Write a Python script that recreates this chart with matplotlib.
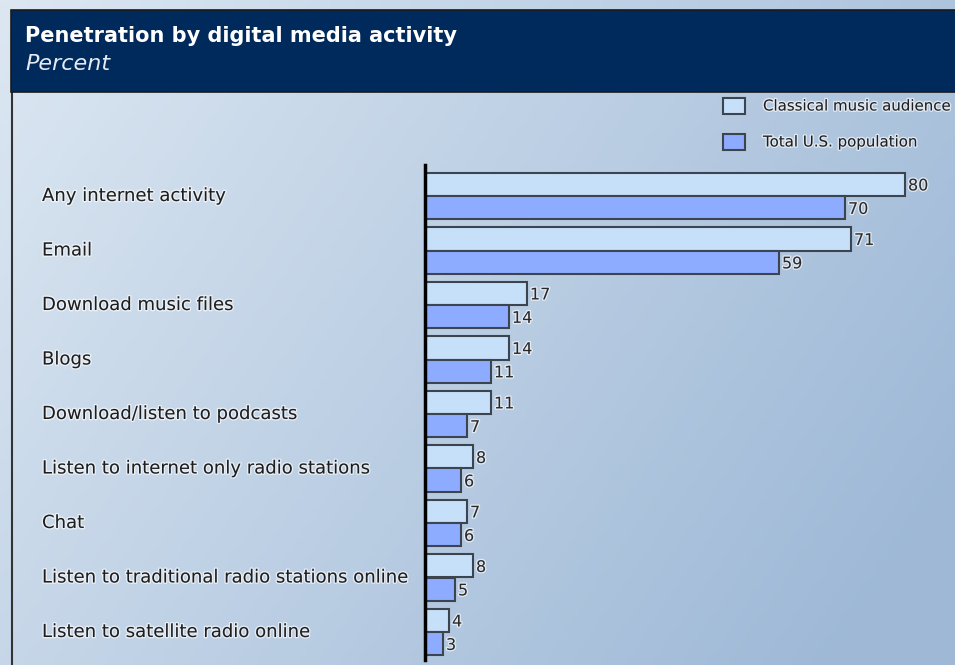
import numpy as np
import matplotlib
import matplotlib.pyplot as plt
from matplotlib.patches import Rectangle
from matplotlib.transforms import blended_transform_factory
import matplotlib.patheffects as pe

matplotlib.use('Agg')
plt.rcParams['font.family'] = ['DejaVu Sans']

# 데이터
activities = [
    'Any internet activity',
    'Email',
    'Download music files',
    'Blogs',
    'Download/listen to podcasts',
    'Listen to internet only radio stations',
    'Chat',
    'Listen to traditional radio stations online',
    'Listen to satellite radio online',
]
classical = [80, 71, 17, 14, 11, 8, 7, 8, 4]
total_us = [70, 59, 14, 11, 7, 6, 6, 5, 3]
series_names = ['Classical music audience', 'Total U.S. population']

light_color = '#c6e0fa'
dark_color = '#8eacff'
edge_color = '#3c4450'
navy = '#002a5c'

W, H = 955, 665
fig = plt.figure(figsize=(W / 100, H / 100), dpi=100)

# 배경 그라데이션
bg = fig.add_axes([0, 0, 1, 1])
gx, gy = np.meshgrid(np.linspace(0, 1, 200), np.linspace(0, 1, 200))
t = np.clip(0.75 * gx + 0.35 * gy, 0, 1) / 1.1
c0 = np.array([0xdc, 0xe7, 0xf2]) / 255
c1 = np.array([0x98, 0xb4, 0xd4]) / 255
grad = c0[None, None, :] * (1 - t[..., None]) + c1[None, None, :] * t[..., None]
bg.imshow(grad, extent=[0, 1, 0, 1], aspect='auto', origin='upper')
bg.set_xlim(0, 1)
bg.set_ylim(0, 1)
bg.axis('off')


def fx(px):
    return px / W


def fy(py):
    return 1 - py / H


# 제목 바
fig.patches.append(Rectangle((fx(11), fy(92)), fx(W - 11) + 0.01, 82 / H,
                             transform=fig.transFigure, facecolor=navy,
                             edgecolor='#1a1a1a', linewidth=1.2, zorder=2))
fig.lines.append(plt.Line2D([fx(12), fx(12)], [fy(92), 0], transform=fig.transFigure,
                            color='#333333', linewidth=1.5, zorder=2))
fig.text(fx(25), fy(36), 'Penetration by digital media activity', color='white',
         fontsize=15, fontweight='bold', va='center', ha='left', zorder=3)
fig.text(fx(25), fy(64), 'Percent', color='#e4ebf3', fontsize=16,
         fontstyle='italic', va='center', ha='left', zorder=3)

# 막대 영역
left_px, right_px = 425, 953
top_px, bottom_px = 165, 660
ax = fig.add_axes([fx(left_px), fy(bottom_px), (right_px - left_px) / W,
                   (bottom_px - top_px) / H])
ax.patch.set_alpha(0)
step = 54.5
y0 = (top_px - 196) / step
y1 = (bottom_px - 196) / step
ax.set_ylim(y1, y0)
ax.set_xlim(0, (right_px - left_px) / 6)

pos = np.arange(len(activities))
h = 0.43
ax.barh(pos - h / 2, classical, height=h, color=light_color,
        edgecolor=edge_color, linewidth=1.5, zorder=2)
ax.barh(pos + h / 2, total_us, height=h, color=dark_color,
        edgecolor=edge_color, linewidth=1.5, zorder=2)

halo = [pe.withStroke(linewidth=2, foreground='white', alpha=0.6)]
for i, (a, b) in enumerate(zip(classical, total_us)):
    ax.text(a + 0.5, i - h / 2 + 0.03, str(a), va='center', ha='left', fontsize=11.5,
            color='#2a2a2a', path_effects=halo)
    ax.text(b + 0.5, i + h / 2 + 0.03, str(b), va='center', ha='left', fontsize=11.5,
            color='#2a2a2a', path_effects=halo)

for s in ['top', 'right', 'bottom']:
    ax.spines[s].set_visible(False)
ax.spines['left'].set_linewidth(2.5)
ax.spines['left'].set_color('black')
ax.set_xticks([])
ax.set_yticks([])

# 항목 이름
tr = blended_transform_factory(fig.transFigure, ax.transData)
for i, name in enumerate(activities):
    ax.text(fx(42), i, name, transform=tr, va='center', ha='left', fontsize=13,
            color='#1e1e1e', path_effects=halo, clip_on=False)

# 범례
legend_rows = [(106, light_color), (142, dark_color)]
for (cy, col), name in zip(legend_rows, series_names):
    fig.patches.append(Rectangle((fx(723), fy(cy + 8)), 22 / W, 16 / H,
                                 transform=fig.transFigure, facecolor=col,
                                 edgecolor=edge_color, linewidth=1.5, zorder=3))
    fig.text(fx(763), fy(cy), name, fontsize=10.8, color='#1e1e1e', va='center',
             ha='left', path_effects=halo, zorder=3)

fig.savefig('out.png', dpi=100)
